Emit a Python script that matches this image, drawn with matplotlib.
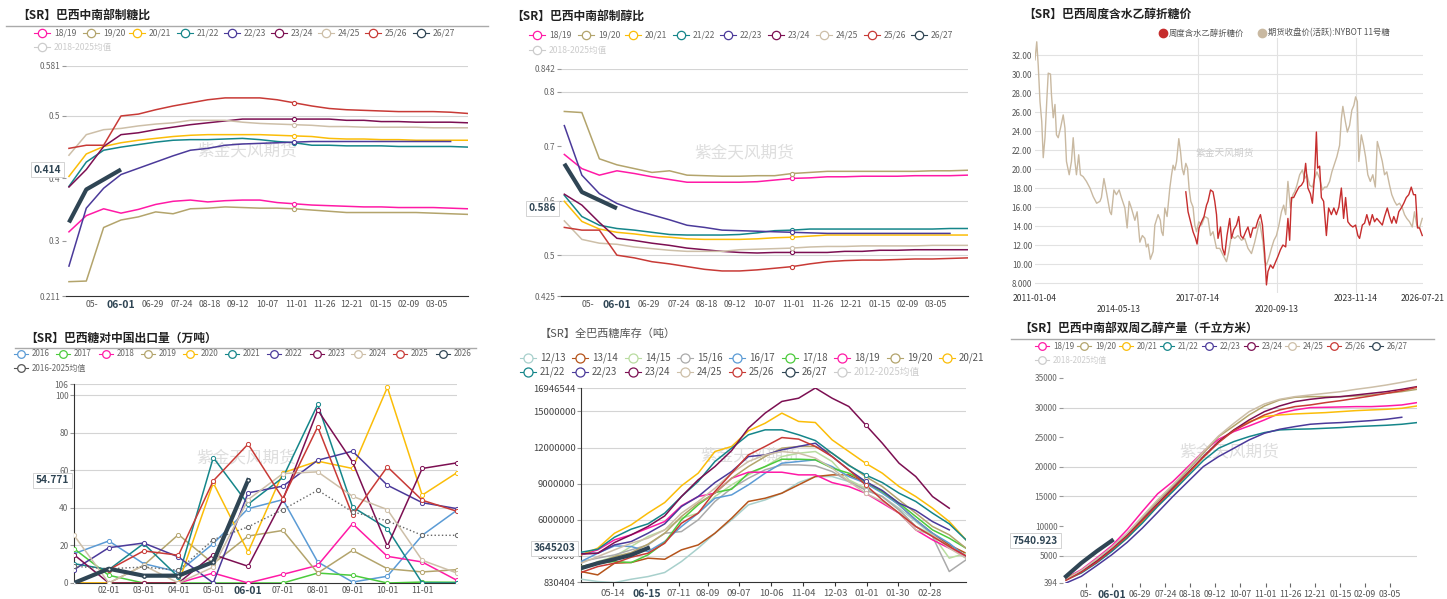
import numpy as np
import matplotlib
matplotlib.use("Agg")
import matplotlib.pyplot as plt
from matplotlib.lines import Line2D
from matplotlib.transforms import blended_transform_factory

plt.rcParams['font.family'] = ['Noto Sans CJK SC', 'DejaVu Sans']
nan = np.nan

# ---------------- data ----------------
seasons = ['18/19', '19/20', '20/21', '21/22', '22/23', '23/24', '24/25', '25/26', '26/27']
season_colors = ['#ff1aa6', '#b3a46c', '#fbbd08', '#15868a', '#4b3a9a', '#7c0f52', '#cdbfa8', '#c83a36', '#2f4554']

# 巴西中南部制糖比 (half-monthly)
sm_1819 = [0.314, 0.340, 0.351, 0.344, 0.350, 0.358, 0.363, 0.365, 0.362, 0.364, 0.365, 0.365, 0.361, 0.359, 0.357, 0.356, 0.355, 0.354, 0.354, 0.353, 0.353, 0.353, 0.352, 0.351]
sm_1920 = [0.234, 0.235, 0.321, 0.333, 0.338, 0.346, 0.343, 0.351, 0.352, 0.354, 0.353, 0.352, 0.352, 0.351, 0.349, 0.347, 0.345, 0.345, 0.345, 0.345, 0.345, 0.344, 0.343, 0.342]
sm_2021 = [0.403, 0.439, 0.451, 0.457, 0.461, 0.464, 0.467, 0.469, 0.470, 0.470, 0.470, 0.470, 0.469, 0.468, 0.467, 0.464, 0.463, 0.463, 0.462, 0.462, 0.461, 0.461, 0.461, 0.461]
sm_2122 = [0.387, 0.426, 0.445, 0.450, 0.454, 0.458, 0.461, 0.462, 0.462, 0.463, 0.464, 0.462, 0.459, 0.457, 0.453, 0.453, 0.452, 0.452, 0.452, 0.451, 0.451, 0.451, 0.451, 0.450]
sm_2223 = [0.259, 0.352, 0.384, 0.406, 0.416, 0.426, 0.436, 0.445, 0.448, 0.453, 0.455, 0.456, 0.457, 0.458, 0.459, 0.459, 0.459, 0.459, 0.459, 0.459, 0.459, 0.459, 0.459, nan]
sm_2324 = [0.386, 0.414, 0.451, 0.470, 0.473, 0.478, 0.482, 0.486, 0.489, 0.492, 0.495, 0.495, 0.495, 0.495, 0.495, 0.495, 0.493, 0.493, 0.491, 0.491, 0.490, 0.490, 0.490, 0.489]
sm_2425 = [0.437, 0.470, 0.478, 0.480, 0.484, 0.487, 0.489, 0.493, 0.493, 0.493, 0.490, 0.488, 0.487, 0.486, 0.485, 0.483, 0.483, 0.482, 0.482, 0.482, 0.482, 0.481, 0.481, 0.481]
sm_2526 = [0.448, 0.453, 0.453, 0.500, 0.503, 0.510, 0.516, 0.521, 0.526, 0.529, 0.529, 0.529, 0.526, 0.521, 0.516, 0.512, 0.510, 0.509, 0.508, 0.507, 0.507, 0.507, 0.506, 0.504]
sm_2627 = [0.329, 0.382, 0.398, 0.414]

# 巴西中南部制醇比
em_1819 = [0.685, 0.659, 0.647, 0.655, 0.650, 0.644, 0.639, 0.634, 0.634, 0.634, 0.634, 0.635, 0.638, 0.641, 0.642, 0.644, 0.644, 0.645, 0.645, 0.645, 0.646, 0.646, 0.646, 0.647]
em_1920 = [0.764, 0.762, 0.677, 0.666, 0.659, 0.652, 0.655, 0.647, 0.646, 0.645, 0.645, 0.646, 0.646, 0.650, 0.652, 0.654, 0.654, 0.654, 0.654, 0.654, 0.654, 0.655, 0.655, 0.656]
em_2021 = [0.599, 0.562, 0.548, 0.542, 0.539, 0.535, 0.533, 0.530, 0.529, 0.529, 0.529, 0.530, 0.532, 0.533, 0.535, 0.537, 0.537, 0.537, 0.537, 0.537, 0.537, 0.537, 0.537, 0.537]
em_2122 = [0.610, 0.571, 0.555, 0.549, 0.546, 0.542, 0.538, 0.537, 0.537, 0.537, 0.538, 0.541, 0.545, 0.546, 0.548, 0.548, 0.548, 0.548, 0.548, 0.548, 0.548, 0.548, 0.549, 0.549]
em_2223 = [0.738, 0.647, 0.613, 0.595, 0.583, 0.574, 0.565, 0.555, 0.551, 0.546, 0.545, 0.544, 0.543, 0.542, 0.541, 0.540, 0.540, 0.540, 0.540, 0.540, 0.540, 0.540, 0.540, nan]
em_2324 = [0.612, 0.592, 0.560, 0.531, 0.527, 0.522, 0.518, 0.513, 0.510, 0.507, 0.505, 0.504, 0.505, 0.505, 0.505, 0.505, 0.507, 0.507, 0.509, 0.509, 0.510, 0.510, 0.510, 0.510]
em_2425 = [0.563, 0.529, 0.522, 0.520, 0.515, 0.512, 0.509, 0.507, 0.507, 0.507, 0.510, 0.511, 0.512, 0.513, 0.515, 0.516, 0.516, 0.517, 0.517, 0.517, 0.517, 0.518, 0.518, 0.518]
em_2526 = [0.551, 0.546, 0.546, 0.500, 0.495, 0.488, 0.484, 0.479, 0.474, 0.471, 0.471, 0.473, 0.476, 0.479, 0.484, 0.488, 0.490, 0.491, 0.491, 0.492, 0.493, 0.493, 0.494, 0.495]
em_2627 = [0.668, 0.616, 0.601, 0.586]

season_ticks = ['05-', '06-01', '06-29', '07-24', '08-18', '09-12', '10-07', '11-01', '11-26', '12-21', '01-15', '02-09', '03-05']

# 巴西周度含水乙醇折糖价 / NYBOT 11号糖
nybot_t = [2011.01, 2011.08, 2011.14, 2011.21, 2011.28, 2011.34, 2011.41, 2011.48, 2011.54, 2011.63, 2011.67, 2011.74, 2011.81, 2011.87, 2011.94,
           2012.03, 2012.14, 2012.21, 2012.27, 2012.38, 2012.47, 2012.54, 2012.61, 2012.67, 2012.76, 2012.83, 2012.94,
           2013.07, 2013.21, 2013.34, 2013.48, 2013.61, 2013.67, 2013.77, 2013.87,
           2014.01, 2014.07, 2014.17, 2014.27, 2014.38, 2014.47, 2014.61, 2014.70, 2014.78, 2014.87,
           2015.01, 2015.10, 2015.21, 2015.31, 2015.41, 2015.47, 2015.54, 2015.63, 2015.74, 2015.81, 2015.94,
           2016.03, 2016.08, 2016.14, 2016.21, 2016.30, 2016.41, 2016.48, 2016.54, 2016.61, 2016.68, 2016.77, 2016.84, 2016.90, 2016.97,
           2017.05, 2017.12, 2017.18, 2017.25, 2017.34, 2017.41, 2017.48, 2017.57, 2017.68, 2017.81, 2017.94,
           2018.04, 2018.14, 2018.28, 2018.41, 2018.54, 2018.68, 2018.77, 2018.88,
           2019.01, 2019.14, 2019.28, 2019.41, 2019.54, 2019.68, 2019.81, 2019.94,
           2020.01, 2020.14, 2020.21, 2020.28, 2020.37, 2020.48, 2020.58, 2020.68, 2020.78, 2020.88, 2020.97,
           2021.05, 2021.14, 2021.24, 2021.34, 2021.41, 2021.50, 2021.61, 2021.72, 2021.81, 2021.90,
           2022.01, 2022.12, 2022.21, 2022.30, 2022.41, 2022.52, 2022.61, 2022.70, 2022.81, 2022.90,
           2023.01, 2023.10, 2023.21, 2023.28, 2023.34, 2023.44, 2023.52, 2023.61, 2023.70, 2023.78, 2023.85, 2023.92, 2023.98,
           2024.08, 2024.17, 2024.25, 2024.34, 2024.44, 2024.54, 2024.64, 2024.72, 2024.81, 2024.92,
           2025.01, 2025.10, 2025.21, 2025.30, 2025.41, 2025.50, 2025.61, 2025.72, 2025.81, 2025.90,
           2026.01, 2026.12, 2026.21, 2026.30, 2026.41, 2026.52]
nybot_v = [31.5, 33.4, 30.9, 27.1, 25.0, 21.2, 23.3, 27.1, 30.1, 30.0, 27.8, 25.4, 26.8, 23.6, 23.3,
           24.3, 25.7, 24.3, 20.8, 19.4, 20.8, 23.3, 20.8, 19.4, 21.5, 19.4, 19.2,
           18.7, 18.0, 17.1, 16.4, 16.6, 17.0, 19.0, 17.6,
           15.5, 15.2, 17.8, 17.3, 17.8, 17.0, 15.9, 13.8, 16.6, 15.9,
           14.6, 15.5, 12.3, 13.0, 12.7, 11.8, 12.1, 10.5, 11.3, 14.1, 15.2,
           14.6, 13.4, 13.0, 15.9, 15.0, 18.0, 19.4, 20.4, 19.9, 20.8, 23.2, 21.8, 20.1, 19.4,
           20.6, 20.1, 18.0, 16.6, 16.0, 14.1, 13.4, 14.45, 14.1, 15.0, 14.8,
           13.0, 13.4, 11.65, 11.65, 10.95, 10.25, 11.3, 13.0,
           12.7, 13.0, 12.5, 12.7, 11.65, 11.1, 12.3, 13.8,
           14.45, 12.3, 10.25, 9.9, 10.6, 11.65, 12.5, 13.0, 14.1, 15.5, 16.2,
           15.2, 18.7, 15.9, 17.3, 17.6, 18.3, 19.4, 19.9, 19.0, 19.4,
           18.3, 18.1, 19.0, 19.7, 19.0, 17.8, 18.1, 18.1, 18.7, 19.7,
           20.6, 21.3, 22.5, 25.3, 26.6, 25.0, 23.9, 24.6, 26.2, 26.7, 27.6, 27.1, 20.8,
           23.6, 22.5, 21.3, 19.4, 18.7, 19.4, 18.1, 22.9, 22.0, 20.8,
           19.4, 19.7, 18.3, 17.3, 16.6, 16.2, 16.4, 15.9, 15.2, 14.8,
           14.45, 13.9, 15.5, 14.1, 13.8, 14.8]

eth_t = [2017.05, 2017.14, 2017.24, 2017.34, 2017.44, 2017.50, 2017.58, 2017.68, 2017.78, 2017.88, 2017.94,
         2018.04, 2018.14, 2018.21, 2018.28, 2018.34, 2018.44, 2018.52, 2018.61, 2018.70, 2018.81, 2018.88, 2018.97,
         2019.08, 2019.17, 2019.25, 2019.34, 2019.45, 2019.54, 2019.64, 2019.74, 2019.85, 2019.94,
         2020.04, 2020.12, 2020.21, 2020.28, 2020.34, 2020.44, 2020.54, 2020.65, 2020.74, 2020.84, 2020.94,
         2021.05, 2021.14, 2021.21, 2021.28, 2021.37, 2021.48, 2021.58, 2021.68, 2021.77, 2021.85, 2021.94,
         2022.04, 2022.12, 2022.21, 2022.28, 2022.33, 2022.41, 2022.48, 2022.57, 2022.68, 2022.77, 2022.88, 2022.98,
         2023.08, 2023.18, 2023.28, 2023.37, 2023.45, 2023.54, 2023.64, 2023.74, 2023.85, 2023.94,
         2024.01, 2024.12, 2024.21, 2024.30, 2024.41, 2024.52, 2024.61, 2024.70, 2024.81, 2024.92,
         2025.01, 2025.12, 2025.21, 2025.30, 2025.38, 2025.48, 2025.58, 2025.68, 2025.78, 2025.88, 2025.98,
         2026.08, 2026.17, 2026.25, 2026.33, 2026.41, 2026.52]
eth_v = [17.6, 15.5, 14.45, 13.4, 12.7, 12.1, 13.8, 14.45, 15.0, 16.2, 16.6,
         17.8, 17.6, 16.6, 15.2, 12.7, 13.9, 11.65, 10.95, 13.0, 14.8, 12.7, 13.6,
         14.1, 15.0, 13.0, 12.7, 13.4, 13.9, 12.8, 13.8, 13.8, 14.6,
         15.2, 14.1, 11.1, 7.8, 9.2, 9.9, 9.55, 10.25, 10.8, 11.5, 12.0,
         11.8, 14.8, 12.5, 17.0, 17.0, 17.6, 18.1, 18.3, 18.7, 20.6, 18.0,
         17.4, 16.4, 19.4, 23.9, 20.1, 20.3, 17.0, 16.6, 13.0, 15.9, 15.2, 15.9,
         15.2, 16.0, 18.0, 14.8, 17.0, 14.45, 14.1, 13.9, 14.1, 13.0,
         12.7, 14.1, 14.3, 15.2, 14.1, 15.2, 14.45, 14.8, 14.45, 14.1,
         15.0, 15.9, 15.0, 14.3, 15.0, 14.3, 15.5, 15.9, 16.4, 17.0, 17.3,
         18.1, 17.3, 17.3, 13.8, 13.8, 13.0]

# 巴西糖对中国出口量 (万吨), months 1-12
years = ['2016', '2017', '2018', '2019', '2020', '2021', '2022', '2023', '2024', '2025', '2026']
year_colors = ['#5b9bd5', '#4ccb3c', '#ff1aa6', '#b3a46c', '#fbbd08', '#15868a', '#4b3a9a', '#7c0f52', '#cdbfa8', '#c83a36', '#2f4554']
ex_2016 = [15.6, 22.4, 10.3, 5.9, 21.0, 39.6, 44.4, 11.2, 0.5, 3.6, 25.4, 38.8]
ex_2017 = [18.3, 4.1, 0, 0, 0, 0, 0, 5.3, 4.1, 0, 0.5, 0.4]
ex_2018 = [0, 0, 0, 0, 5.3, 0, 4.6, 9.4, 31.6, 14.2, 11.2, 1.4]
ex_2019 = [0, 0, 9.4, 25.8, 10.3, 25.0, 28.0, 5.3, 17.4, 7.6, 5.9, 7.1]
ex_2020 = [0, 0, 0, 0, 53.3, 16.5, 58.7, 64.9, 61.0, 104.2, 46.8, 58.8]
ex_2021 = [10.3, 7.1, 21.0, 3.2, 66.8, 42.0, 56.2, 95.1, 40.5, 29.0, 0, 0]
ex_2022 = [7.1, 18.8, 21.3, 13.9, 0, 48.0, 51.6, 65.4, 70.2, 52.1, 42.8, 39.6]
ex_2023 = [15.1, 0, 0, 0, 15.1, 8.9, 44.4, 92.1, 64.5, 19.6, 61.0, 64.0]
ex_2024 = [25.4, 0, 9.4, 0, 8.5, 44.4, 58.3, 59.2, 46.2, 39.1, 12.1, 5.3]
ex_2025 = [0, 7.1, 17.1, 14.8, 54.4, 74.0, 45.0, 83.2, 36.1, 61.9, 44.1, 38.2]
ex_2026 = [0, 7.6, 3.9, 3.9, 11.2, 54.771]
ex_avg = [8.9, 7.6, 8.5, 6.8, 23.1, 29.9, 39.1, 49.4, 37.9, 33.1, 25.4, 25.4]
month_ticks = ['02-01', '03-01', '04-01', '05-01', '06-01', '07-01', '08-01', '09-01', '10-01', '11-01']

# 全巴西糖库存 (百万吨, half-monthly)
stock_seasons = ['12/13', '13/14', '14/15', '15/16', '16/17', '17/18', '18/19', '19/20', '20/21',
                 '21/22', '22/23', '23/24', '24/25', '25/26', '26/27']
stock_colors = ['#a8d0cc', '#b5541b', '#b9dca0', '#aaaaaa', '#5b9bd5', '#4ccb3c', '#ff1aa6', '#b3a46c', '#fbbd08',
                '#15868a', '#4b3a9a', '#7c0f52', '#cdbfa8', '#c83a36', '#2f4554']
st_1213 = [1.06, 0.87, 0.78, 1.06, 1.28, 1.62, 2.53, 3.64, 4.88, 5.99, 7.24, 7.65, 8.21, 9.09, 9.59, 9.59, 9.18, 8.48, 7.93, 6.96, 5.85, 4.75, 3.78, 2.81]
st_1314 = [1.70, 1.42, 2.39, 2.45, 2.81, 2.72, 3.50, 3.91, 4.88, 6.13, 7.52, 7.79, 8.21, 8.90, 9.59, 9.73, 9.73, 9.04, 8.35, 7.24, 5.99, 4.88, 3.91, 3.22]
st_1415 = [1.84, 2.53, 2.94, 3.78, 4.61, 5.16, 6.13, 6.55, 7.93, 8.90, 9.73, 10.42, 11.25, 11.53, 11.67, 10.84, 9.32, 8.62, 7.93, 6.82, 5.44, 4.75, 2.81, 3.22]
st_1516 = [2.53, 2.81, 3.08, 3.50, 3.91, 4.88, 5.02, 5.99, 7.52, 8.62, 9.45, 10.15, 10.56, 10.56, 10.48, 10.01, 9.18, 8.48, 7.93, 6.82, 5.44, 4.61, 1.70, 2.67]
st_1617 = [2.53, 3.22, 3.83, 3.78, 3.36, 4.19, 5.44, 6.55, 7.79, 8.07, 8.90, 9.87, 10.70, 10.84, 10.98, 10.42, 9.59, 9.04, 8.21, 7.24, 5.99, 4.88, 4.05, 2.94]
st_1718 = [2.11, 2.39, 2.53, 2.45, 3.08, 4.11, 5.99, 7.24, 8.26, 8.54, 9.87, 10.42, 11.03, 11.03, 10.98, 10.29, 9.87, 9.18, 8.35, 7.38, 6.27, 5.16, 4.47, 3.64]
st_1819 = [3.08, 3.50, 4.33, 4.75, 5.30, 5.85, 7.16, 7.93, 8.21, 9.45, 9.95, 9.95, 9.95, 9.73, 9.73, 9.09, 8.76, 8.21, 7.38, 6.55, 5.16, 4.33, 3.64, 3.00]
st_1920 = [2.11, 2.39, 2.94, 3.28, 3.97, 4.88, 6.27, 7.38, 8.21, 9.45, 10.42, 11.25, 11.95, 12.09, 12.09, 11.53, 10.56, 9.59, 8.76, 7.65, 6.55, 5.44, 4.75, 3.64]
st_2021 = [3.08, 3.64, 4.88, 5.58, 6.55, 7.43, 8.82, 9.87, 11.67, 12.09, 13.39, 14.02, 14.86, 14.17, 14.08, 12.64, 11.67, 10.70, 9.87, 8.76, 7.93, 6.96, 5.85, 4.33]
st_2122 = [3.30, 3.55, 4.55, 5.22, 5.66, 6.55, 7.93, 9.18, 10.84, 11.95, 13.06, 13.47, 13.47, 13.06, 12.58, 11.53, 10.51, 9.73, 9.09, 8.21, 7.52, 6.55, 5.66, 4.33]
st_2223 = [3.17, 3.22, 3.91, 4.19, 4.88, 5.66, 7.10, 7.93, 9.09, 10.01, 11.25, 11.39, 11.81, 12.09, 12.36, 11.25, 10.15, 9.18, 8.43, 7.38, 6.77, 5.85, 5.16, nan]
st_2324 = [3.17, 3.22, 4.11, 4.75, 5.44, 6.32, 7.93, 9.32, 10.42, 11.75, 13.61, 14.86, 15.83, 16.10, 16.946544, 16.10, 15.41, 13.89, 12.36, 10.70, 9.59, 7.93, 6.96, nan]
st_2425 = [2.39, 2.94, 3.50, 4.05, 4.47, 5.16, 6.55, 7.52, 8.62, 9.87, 10.84, 11.39, 11.67, 11.53, 11.12, 10.29, 9.18, 8.21, 7.52, 6.55, 5.16, 4.75, 3.64, 2.81]
st_2526 = [1.62, 2.11, 2.39, 2.89, 3.22, 4.05, 5.71, 6.55, 8.35, 9.87, 11.39, 12.09, 12.83, 12.70, 12.09, 11.25, 10.15, 8.90, 7.65, 6.55, 5.44, 4.61, 3.78, 3.00]
st_2627 = [1.98, 2.39, 2.72, 3.08, 3.645203]
stock_ticks = ['05-14', '06-15', '07-11', '08-09', '09-07', '10-06', '11-04', '12-03', '01-01', '01-30', '02-28']

# 巴西中南部双周乙醇产量 (千立方米, cumulative)
et_1819 = [1236, 2640, 4607, 6685, 9382, 12472, 15449, 17528, 20056, 22584, 24663, 25955, 26910, 27921, 29045, 29607, 30000, 30056, 30112, 30169, 30169, 30281, 30449, 30843]
et_1920 = [955, 2360, 4213, 6292, 8539, 11348, 14157, 16685, 19494, 22303, 25112, 26910, 28764, 30281, 31292, 31742, 31854, 31854, 31854, 31966, 32135, 32416, 32697, 33090]
et_2021 = [1236, 2360, 4045, 5899, 7978, 10787, 13427, 16124, 18820, 21629, 24270, 26236, 27640, 28483, 28764, 28933, 29045, 29157, 29326, 29494, 29607, 29719, 29888, 30281]
et_2122 = [955, 2079, 3764, 5730, 7978, 10506, 13315, 15843, 18483, 21067, 23146, 24270, 25112, 25787, 26236, 26348, 26404, 26517, 26629, 26798, 26910, 27022, 27191, 27472]
et_2223 = [393, 1517, 3315, 5169, 7247, 9663, 12303, 15000, 17528, 20056, 21742, 23146, 24551, 25674, 26348, 26798, 27191, 27360, 27472, 27640, 27809, 28034, 28371, nan]
et_2324 = [1067, 2360, 4045, 6124, 8371, 11067, 13764, 16404, 19045, 21742, 24270, 26236, 27921, 29326, 30281, 31011, 31405, 31686, 31854, 32135, 32416, 32697, 33090, 33539]
et_2425 = [1067, 2528, 4438, 6461, 8820, 11629, 14438, 16966, 19775, 22584, 25225, 27360, 29326, 30618, 31405, 31854, 32135, 32416, 32697, 33090, 33427, 33820, 34270, 34775]
et_2526 = [843, 2191, 3876, 6011, 8258, 10955, 13596, 16236, 18933, 21629, 24101, 26124, 27472, 28764, 29607, 30169, 30449, 30843, 31180, 31573, 31966, 32416, 32865, 33427]
et_2627 = [1517, 3764, 5730, 7540.923]

# ---------------- helpers ----------------
W, H = 1447, 599
fig = plt.figure(figsize=(W / 100, H / 100), dpi=100)


def frect(x0, y0, x1, y1):
    return [x0 / W, 1 - y1 / H, (x1 - x0) / W, (y1 - y0) / H]


def ftext(x, y, s, **kw):
    fig.text(x / W, 1 - y / H, s, **kw)


def fline(xs, ys, **kw):
    fig.add_artist(Line2D([x / W for x in xs], [1 - y / H for y in ys],
                          transform=fig.transFigure, **kw))


def leg(x, y, color, label, fs=6.2, tcolor='#666666', half=8, ms=6):
    fline([x - half, x + half], [y, y], color=color, lw=0.8)
    fline([x], [y], marker='o', ms=ms, mfc='white', mec=color, mew=0.9, lw=0)
    ftext(x + half + 4, y, label, fontsize=fs, color=tcolor, va='center', ha='left')


def base_style(ax, grid_vals=None, left_spine=False, bottom_spine=True):
    for s in ['top', 'right']:
        ax.spines[s].set_visible(False)
    ax.spines['left'].set_visible(left_spine)
    ax.spines['left'].set_color('#333333')
    ax.spines['bottom'].set_visible(bottom_spine)
    ax.spines['bottom'].set_color('#333333')
    ax.tick_params(axis='y', labelsize=6, colors='#999999', labelcolor='#666666', length=3, pad=1)
    ax.tick_params(axis='x', labelsize=6.3, labelcolor='#555555', length=0, pad=3)
    if grid_vals is not None:
        for g in grid_vals:
            ax.axhline(g, color='#d4d4d4', lw=0.8, zorder=0)
    ax.patch.set_alpha(0)


def bold_tick(ax, label):
    for t in ax.get_xticklabels():
        if t.get_text() == label:
            t.set_fontweight('bold')
            t.set_color('#2f4554')
            t.set_fontsize(7.5)


def value_box(ax, val, text, dx=-0.012):
    tr = blended_transform_factory(ax.transAxes, ax.transData)
    ax.text(dx, val, text, transform=tr, ha='right', va='center', fontsize=7.3,
            fontweight='bold', color='#2f4554', clip_on=False, zorder=10,
            bbox=dict(boxstyle='square,pad=0.25', fc='white', ec='#cccccc', lw=0.6))


def watermark(ax, x, y, fs=12, color='#dedede'):
    ax.text(x, y, '紫金天风期货', transform=ax.transAxes, ha='center', va='center',
            fontsize=fs, color=color, zorder=0.5)


season_tick_pos = [1.33, 3.0, 4.84, 6.51, 8.13, 9.74, 11.41, 13.08, 14.7, 16.3, 17.98, 19.6, 21.2]


def season_panel(ax, series, ylim, yticks, ylabels, grids, last_label, mark_idx=13):
    base_style(ax, grids)
    for name, vals, col in zip(seasons, series, season_colors):
        x = np.arange(len(vals))
        if name == '26/27':
            ax.plot(x, vals, color=col, lw=3.0, zorder=6, solid_capstyle='butt')
        else:
            ax.plot(x, vals, color=col, lw=1.1, zorder=3)
            if len(vals) > mark_idx and not np.isnan(vals[mark_idx]):
                ax.plot(mark_idx, vals[mark_idx], 'o', ms=3, mfc='white', mec=col, mew=0.8, zorder=4)
    ax.set_ylim(*ylim)
    ax.set_yticks(yticks)
    ax.set_yticklabels(ylabels)
    ax.set_xticks(season_tick_pos)
    ax.set_xticklabels(season_ticks)
    bold_tick(ax, '06-01')
    value_box(ax, series[-1][-1], last_label)


# ---------------- panel 1: 制糖比 ----------------
ftext(17, 15, '【SR】巴西中南部制糖比', fontsize=8.5, fontweight='bold', color='#222222', va='center')
fline([6, 488], [26, 26], color='#aaaaaa', lw=1.0)
leg_x1 = [42, 91, 137, 185, 232, 279, 326, 373, 421]
for lx, s, c in zip(leg_x1, seasons, season_colors):
    leg(lx, 33, c, s)
leg(42, 47, '#cccccc', '2018-2025均值', tcolor='#cccccc')

ax1 = fig.add_axes(frect(66, 65.5, 468, 296))
ax1.set_xlim(-0.17, 23)
season_panel(ax1, [sm_1819, sm_1920, sm_2021, sm_2122, sm_2223, sm_2324, sm_2425, sm_2526, sm_2627],
             (0.211, 0.581), [0.211, 0.3, 0.4, 0.5, 0.581], ['0.211', '0.3', '0.4', '0.5', '0.581'],
             [0.581, 0.5], '0.414')
watermark(ax1, 0.45, 0.63)

# ---------------- panel 2: 制醇比 ----------------
ftext(511, 16, '【SR】巴西中南部制醇比', fontsize=8.5, fontweight='bold', color='#222222', va='center')
leg_x2 = [537, 586, 633, 681, 728, 776, 824, 872, 919]
for lx, s, c in zip(leg_x2, seasons, season_colors):
    leg(lx, 35, c, s)
leg(537, 50, '#cccccc', '2018-2025均值', tcolor='#cccccc')

ax2 = fig.add_axes(frect(561, 69, 968, 296))
ax2.set_xlim(-0.19, 23.03)
season_panel(ax2, [em_1819, em_1920, em_2021, em_2122, em_2223, em_2324, em_2425, em_2526, em_2627],
             (0.425, 0.842), [0.425, 0.5, 0.6, 0.7, 0.8, 0.842], ['0.425', '0.5', '0.6', '0.7', '0.8', '0.842'],
             [0.842, 0.8, 0.6, 0.5], '0.586')
watermark(ax2, 0.45, 0.63)

# ---------------- panel 3: 乙醇折糖价 ----------------
ftext(1023, 14, '【SR】巴西周度含水乙醇折糖价', fontsize=8.5, fontweight='bold', color='#222222', va='center')
fline([1163], [33], marker='o', ms=6, mfc='#c62d2d', mec='#c62d2d', lw=0)
ftext(1169, 33, '周度含水乙醇折糖价', fontsize=6, color='#555555', va='center')
fline([1262], [33], marker='o', ms=6, mfc='#c9b9a1', mec='#c9b9a1', lw=0)
ftext(1268, 33, '期货收盘价(活跃):NYBOT 11号糖', fontsize=6, color='#555555', va='center')

ax3 = fig.add_axes(frect(1035, 38, 1423, 292.5))
for s in ['top', 'right', 'left', 'bottom']:
    ax3.spines[s].set_visible(False)
ax3.set_xlim(2011.01, 2026.55)
ax3.set_ylim(7.0, 33.8)
y3 = [8, 10, 12, 14, 16, 18, 20, 22, 24, 26, 28, 30, 32]
for g in y3:
    ax3.axhline(g, color='#e2e2e2', lw=0.8, zorder=0)
for vx in [2017.53, 2020.70, 2023.87]:
    ax3.axvline(vx, color='#e2e2e2', lw=0.8, zorder=0)
ax3.set_yticks(y3)
ax3.set_yticklabels(['8.000'] + ['%.2f' % v for v in y3[1:]])
ax3.tick_params(axis='y', labelsize=5.8, labelcolor='#555555', length=0, pad=2)
ax3.set_xticks([])
ax3.plot(nybot_t, nybot_v, color='#c9b9a1', lw=1.0, zorder=2)
ax3.plot(eth_t, eth_v, color='#c62d2d', lw=1.0, zorder=3)
for xv, lab, off in [(2011.01, '2011-01-04', 4), (2017.53, '2017-07-14', 4), (2023.87, '2023-11-14', 4),
                     (2026.55, '2026-07-21', 4), (2014.36, '2014-05-13', 12), (2020.70, '2020-09-13', 12)]:
    ax3.annotate(lab, (xv, 7.0), xytext=(0, -off), textcoords='offset points', ha='center', va='center',
                 fontsize=6.2, color='#333333', annotation_clip=False)
watermark(ax3, 0.49, 0.55, fs=7, color='#cccccc')

# ---------------- panel 4: 出口量 ----------------
ftext(25, 338, '【SR】巴西糖对中国出口量（万吨）', fontsize=8.5, fontweight='bold', color='#222222', va='center')
fline([15, 476], [348, 348], color='#aaaaaa', lw=1.0)
leg_x4 = [21, 63, 106, 148, 190, 232, 274, 317, 358, 400, 443]
for lx, s, c in zip(leg_x4, years, year_colors):
    leg(lx, 354, c, s, fs=5.8, half=7, ms=5.5)
leg(21, 368, '#555555', '2016-2025均值', fs=5.8, half=7, ms=5.5)

ax4 = fig.add_axes(frect(74, 384, 457, 583))
base_style(ax4, [106, 100, 80, 60, 40, 20], left_spine=True)
ex_all = [ex_2016, ex_2017, ex_2018, ex_2019, ex_2020, ex_2021, ex_2022, ex_2023, ex_2024, ex_2025, ex_2026]
for yr, vals, col in zip(years, ex_all, year_colors):
    m = np.arange(1, len(vals) + 1)
    if yr == '2026':
        ax4.plot(m, vals, color=col, lw=3.0, zorder=6, marker='o', ms=2.5, mfc='white', mec=col)
    else:
        ax4.plot(m, vals, color=col, lw=1.1, zorder=3, marker='o', ms=3, mfc='white', mec=col, mew=0.7)
ax4.plot(np.arange(1, 13), ex_avg, color='#666666', lw=1.0, ls=':', zorder=4,
         marker='o', ms=3, mfc='white', mec='#666666', mew=0.7)
ax4.set_xlim(1, 12)
ax4.set_ylim(0, 106)
ax4.set_yticks([0, 20, 40, 60, 80, 100, 106])
ax4.set_yticklabels(['0', '20', '40', '60', '80', '100', '106'])
ax4.set_xticks(np.arange(2, 12))
ax4.set_xticklabels(month_ticks)
ax4.tick_params(axis='x', pad=2)
bold_tick(ax4, '06-01')
value_box(ax4, ex_2026[-1], '54.771', dx=-0.012)
watermark(ax4, 0.45, 0.63)

# ---------------- panel 5: 库存 ----------------
ftext(540, 334, '【SR】全巴西糖库存（吨）', fontsize=8, color='#555555', va='center')
leg_x5 = [528, 580, 633, 685, 737, 790, 842, 895, 947]
for i, (s, c) in enumerate(zip(stock_seasons, stock_colors)):
    if i < 9:
        leg(leg_x5[i], 358, c, s, fs=7, tcolor='#555555', half=8, ms=6.5)
    else:
        leg(leg_x5[i - 9], 372, c, s, fs=7, tcolor='#555555', half=8, ms=6.5)
leg(leg_x5[6], 372, '#cccccc', '2012-2025均值', fs=7, tcolor='#cccccc', half=8, ms=6.5)

ax5 = fig.add_axes(frect(581, 388, 966, 582))
y5 = [830404, 3000000, 6000000, 9000000, 12000000, 15000000, 16946544]
base_style(ax5, y5[1:], left_spine=True)
st_all = [st_1213, st_1314, st_1415, st_1516, st_1617, st_1718, st_1819, st_1920, st_2021,
          st_2122, st_2223, st_2324, st_2425, st_2526, st_2627]
for s, vals, col in zip(stock_seasons, st_all, stock_colors):
    v = np.array(vals) * 1e6
    x = np.arange(len(v))
    if s == '26/27':
        ax5.plot(x, v, color=col, lw=3.0, zorder=6)
    else:
        ax5.plot(x, v, color=col, lw=1.1, zorder=3)
        if len(v) > 17:
            ax5.plot(17, v[17], 'o', ms=3, mfc='white', mec=col, mew=0.7, zorder=4)
ax5.set_xlim(0, 23)
ax5.set_ylim(830404, 16946544)
ax5.set_yticks(y5)
ax5.set_yticklabels([str(v) for v in y5])
ax5.tick_params(axis='y', labelsize=6.8, labelcolor='#444444')
ax5.set_xticks([1.91, 3.94, 5.85, 7.59, 9.44, 11.35, 13.26, 15.17, 17.08, 18.94, 20.85])
ax5.set_xticklabels(stock_ticks)
ax5.tick_params(axis='x', labelsize=6.8, labelcolor='#555555', length=3, color='#333333', pad=2)
bold_tick(ax5, '06-15')
value_box(ax5, st_2627[-1] * 1e6, '3645203', dx=-0.014)
watermark(ax5, 0.44, 0.65)

# ---------------- panel 6: 乙醇产量 ----------------
ftext(1019, 329, '【SR】巴西中南部双周乙醇产量（千立方米）', fontsize=8.5, fontweight='bold', color='#222222', va='center')
fline([1011, 1434], [339, 339], color='#aaaaaa', lw=1.0)
leg_x6 = [1042, 1084, 1126, 1167, 1209, 1251, 1292, 1334, 1376]
for lx, s, c in zip(leg_x6, seasons, season_colors):
    leg(lx, 346, c, s, fs=5.8, half=7, ms=5.5)
leg(1042, 360, '#cccccc', '2018-2025均值', fs=5.8, tcolor='#cccccc', half=7, ms=5.5)

ax6 = fig.add_axes(frect(1063, 378, 1417, 583))
y6 = [394, 5000, 10000, 15000, 20000, 25000, 30000, 35000]
base_style(ax6, [5000, 15000, 20000, 30000], bottom_spine=False)
ax6.set_xlim(-0.2, 23)
et_all = [et_1819, et_1920, et_2021, et_2122, et_2223, et_2324, et_2425, et_2526, et_2627]
for s, vals, col in zip(seasons, et_all, season_colors):
    x = np.arange(len(vals))
    if s == '26/27':
        ax6.plot(x, vals, color=col, lw=3.0, zorder=6)
    else:
        ax6.plot(x, vals, color=col, lw=1.1, zorder=3)
ax6.set_ylim(394, 35000)
ax6.set_yticks(y6)
ax6.set_yticklabels([str(v) for v in y6])
ax6.set_xticks(season_tick_pos)
ax6.set_xticklabels(season_ticks)
ax6.tick_params(axis='x', length=3, color='#666666', pad=2)
bold_tick(ax6, '06-01')
value_box(ax6, et_2627[-1], '7540.923', dx=-0.014)
watermark(ax6, 0.47, 0.64)

fig.savefig('out.png', dpi=100, facecolor='white')
